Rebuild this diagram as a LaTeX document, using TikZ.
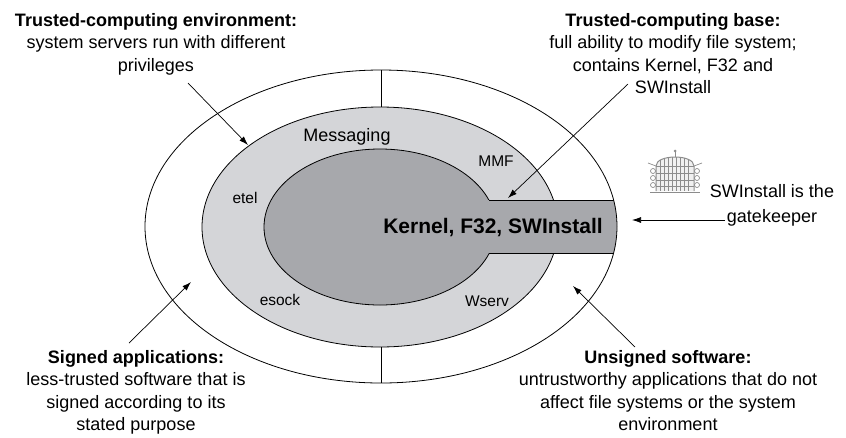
\documentclass[tikz,border=0pt]{standalone}
\usepackage{fontspec}
\setmainfont{Liberation Sans}
\usetikzlibrary{arrows.meta}
\definecolor{msgfill}{RGB}{212,213,216}
\definecolor{tcbfill}{RGB}{167,168,172}
\definecolor{gateink}{RGB}{140,140,140}

\begin{document}
\begin{tikzpicture}[
            x=1pt, y=-1pt,
            line width=0.8pt,
            note/.style={align=center, anchor=north, inner sep=0pt, font=\fontsize{18}{22.3}\selectfont},
            ringlabel/.style={anchor=base, inner sep=0pt, font=\fontsize{15.5}{18}\selectfont},
            arrow/.style={-{Latex[length=9pt,width=6pt]}, line width=0.7pt}
        ]
            \useasboundingbox (0,0) rectangle (846,437);

            % rings
            \filldraw[fill=msgfill] (380,227) ellipse [x radius=178, y radius=120];
            \filldraw[fill=tcbfill] (380,227) ellipse [x radius=116, y radius=78];
            \begin{scope}
                \clip (381,226.5) ellipse [x radius=236, y radius=156.5];
                \fill[tcbfill] (470,200) rectangle (625,253);
                \draw (489,200) -- (625,200) (489,253) -- (625,253);
            \end{scope}
            \draw (381,226.5) ellipse [x radius=236, y radius=156.5];
            \draw (381,70) -- (381,107);
            \draw (381,347) -- (381,383);

            \node[anchor=base, inner sep=0pt, font=\fontsize{21}{24}\selectfont\bfseries] (tcb core) at (493,233) {Kernel, F32, SWInstall};
            \node[anchor=base, inner sep=0pt, font=\fontsize{18}{22}\selectfont] (messaging) at (347,141) {Messaging};
            \node[ringlabel] (mmf) at (496,166) {MMF};
            \node[ringlabel] (etel) at (245,203) {etel};
            \node[ringlabel] (esock) at (280,305) {esock};
            \node[ringlabel] (wserv) at (487,306) {Wserv};

            % gate
            \begin{scope}[shift={(675,172)}, draw=gateink, line width=0.7pt]
                \begin{scope}
                    \clip (-19,19) -- (-19,-6) .. controls (-19,-18) and (19,-18) .. (19,-6) -- (19,19) -- cycle;
                    \fill[gray!12] (-20,-20) rectangle (20,20);
                    \foreach \x in {-15,-11,...,15}
                        \draw (\x,-20) -- (\x,19);
                    \foreach \y in {-6,1,8,14}
                        \draw (-19,\y) -- (19,\y);
                \end{scope}
                \draw[line width=1pt] (-19,19) -- (-19,-6) .. controls (-19,-18) and (19,-18) .. (19,-6) -- (19,19);
                \draw (0,-15) -- (0,-21);
                \fill[gateink] (0,-21) circle (1.5);
                \draw (-27,-9) -- (-19,-6) (27,-9) -- (19,-6);
                \foreach \y in {-1,6,13}
                    \draw (-22,\y) circle (2.5) (22,\y) circle (2.5);
                \draw[line width=1pt] (-25,20) -- (25,20);
            \end{scope}

            \node[note] (tce) at (156,13) {\textbf{Trusted-computing environment:}\\system servers run with different\\privileges};
            \node[note] (tcb) at (673,13) {\textbf{Trusted-computing base:}\\full ability to modify file system;\\contains Kernel, F32 and\\SWInstall};
            \node[note] (signed) at (136,350) {\textbf{Signed applications:}\\less-trusted software that is\\signed according to its\\stated purpose};
            \node[note] (unsigned) at (668,350) {\textbf{Unsigned software:}\\untrustworthy applications that do not\\affect file systems or the system\\environment};
            \node[note, font=\fontsize{18}{25}\selectfont] (gatekeeper) at (772,184) {SWInstall is the\\gatekeeper};

            \coordinate (tce from) at (188,83);
            \coordinate (tce to) at (248,145);
            \coordinate (tcb from) at (628,84);
            \coordinate (tcb to) at (508,198);
            \coordinate (signed from) at (129,343);
            \coordinate (signed to) at (191,282);
            \coordinate (unsigned from) at (635,347);
            \coordinate (unsigned to) at (573,286);
            \coordinate (gate from) at (725,220);
            \coordinate (gate to) at (632,220);

            \draw[arrow] (tce from) -- (tce to);
            \draw[arrow] (tcb from) -- (tcb to);
            \draw[arrow] (signed from) -- (signed to);
            \draw[arrow] (unsigned from) -- (unsigned to);
            \draw[arrow] (gate from) -- (gate to);
        \end{tikzpicture}
\end{document}
